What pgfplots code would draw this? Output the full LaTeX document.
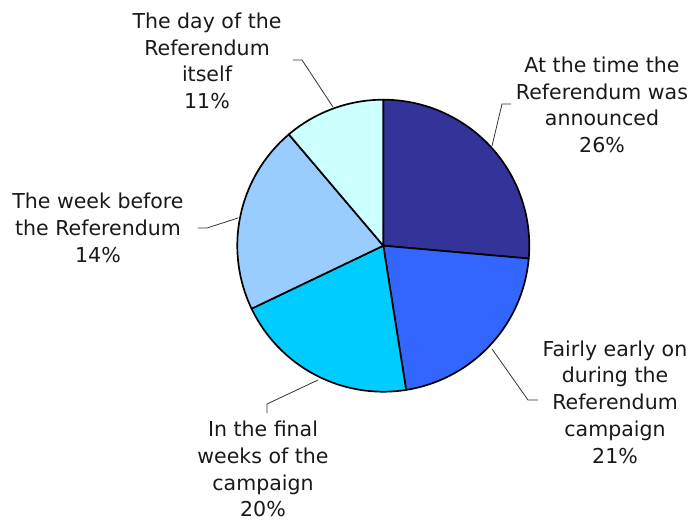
\documentclass[border=0pt]{standalone}
\usepackage{pgfplots}
\pgfplotsset{compat=1.18}
\usepackage{fontspec}
\setmainfont{DejaVu Sans}

\definecolor{s1}{HTML}{333399}
\definecolor{s2}{HTML}{3366FF}
\definecolor{s3}{HTML}{00CCFF}
\definecolor{s4}{HTML}{99CCFF}
\definecolor{s5}{HTML}{CCFFFF}
\definecolor{lead}{HTML}{333333}

% pie centre and radius (picture coordinates, 1 unit = 1 bp)
\def\cx{383.3}
\def\cy{276.3}
\def\R{146}

\begin{document}
\begin{tikzpicture}
\begin{axis}[
    scale only axis,
    width=690bp, height=522bp,
    xmin=0, xmax=690, ymin=0, ymax=522,
    hide axis,
    clip=false,
]
    \path (0,0) rectangle (690,522);

    % slice shares in percent of the circle, clockwise from 12 o'clock
    \def\start{90}
    \pgfplotsforeachungrouped \s/\c in {26.4/s1, 21.1/s2, 20.4/s3, 20.9/s4, 11.2/s5} {
        \pgfmathsetmacro\stop{\start - 3.6*\s}
        \edef\slice{\noexpand\addplot[fill=\c, draw=black, line width=1.7pt,
            line join=round, domain=\stop:\start, samples=80]
            ({\cx+\R*cos(x)}, {\cy+\R*sin(x)}) -- (\cx,\cy) -- cycle;}
        \slice
        \global\let\start\stop
    }

    % leader lines
    \draw[lead, line width=0.8pt] (492,376) -- (502,418) -- (511,418);
    \draw[lead, line width=0.8pt] (492,173) -- (528,122) -- (538,122);
    \draw[lead, line width=0.8pt] (318,142) -- (267,118) -- (267,109);
    \draw[lead, line width=0.8pt] (238,304) -- (207,294) -- (198,294);
    \draw[lead, line width=0.8pt] (333,415) -- (302,462) -- (293,462);

    % labels
    \tikzset{lbl/.style={align=center, inner sep=0pt, text=black!90,
        font={\fontsize{20.6}{26.8}\selectfont}}}
    \node[lbl] at (602,417) {At the time the\\Referendum was\\announced\\26\%};
    \node[lbl] at (615,120) {Fairly early on\\during the\\Referendum\\campaign\\21\%};
    \node[lbl] at (263,53) {In the final\\weeks of the\\campaign\\20\%};
    \node[lbl] at (98,294) {The week before\\the Referendum\\14\%};
    \node[lbl] at (207,461) {The day of the\\Referendum\\itself\\11\%};
\end{axis}
\end{tikzpicture}
\end{document}
